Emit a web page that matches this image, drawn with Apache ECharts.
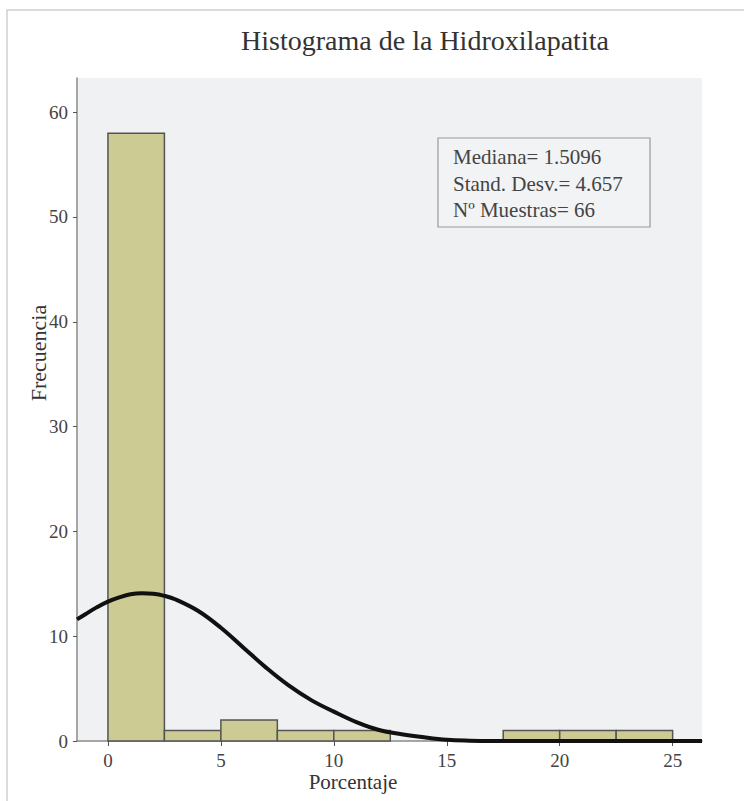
<!DOCTYPE html>
<html>
<head>
<meta charset="utf-8">
<script src="https://cdn.jsdelivr.net/npm/echarts@6/dist/echarts.min.js"></script>
<style>
html,body{margin:0;padding:0;background:#fff;}
#chart{width:744px;height:801px;}
</style>
</head>
<body>
<div id="chart"></div>
<script>
// ---- data ----
const chartTitle = 'Histograma de la Hidroxilapatita';
const xAxisName = 'Porcentaje';
const yAxisName = 'Frecuencia';
const binEdges = [0, 2.5, 5, 7.5, 10, 12.5, 15, 17.5, 20, 22.5, 25];
const binCounts = [58, 1, 2, 1, 1, 0, 0, 1, 1, 1];
const xTicks = [0, 5, 10, 15, 20, 25];
const yTicks = [0, 10, 20, 30, 40, 50, 60];
const curveX = [-1.37, -1, -0.5, 0, 0.5, 1, 1.5, 2, 2.5, 3, 4, 5, 6, 7, 8, 9, 10, 11, 12, 13, 14, 15, 16, 17, 18, 20, 26.3];
const curveY = [11.6, 12.1, 12.75, 13.3, 13.7, 14.0, 14.1, 14.05, 13.85, 13.5, 12.4, 10.8, 8.9, 7.0, 5.3, 3.9, 2.8, 1.8, 1.05, 0.65, 0.35, 0.12, 0.03, 0, 0, 0, 0];
const statsLines = ['Mediana= 1.5096', 'Stand. Desv.= 4.657', 'Nº Muestras= 66'];

// ---- build ----
const serif = "Liberation Serif";
const binData = [];
for (let i = 0; i < binCounts.length; i++) {
  if (binCounts[i] > 0) binData.push([binEdges[i], binEdges[i + 1], binCounts[i]]);
}
const curveData = curveX.map((x, i) => [x, curveY[i]]);

const chart = echarts.init(document.getElementById('chart'), null, {renderer: 'svg'});
chart.setOption({
  animation: false,
  backgroundColor: '#ffffff',
  grid: {
    left: 77, right: 42, top: 78, bottom: 60,
    show: true, backgroundColor: '#f0f1f3', borderWidth: 0
  },
  xAxis: {
    type: 'value', min: -1.37, max: 26.3,
    splitLine: {show: false},
    axisLine: {show: true, onZero: false, lineStyle: {color: '#8a8a8a', width: 1.5}},
    axisTick: {show: true, length: 5, customValues: xTicks, lineStyle: {color: '#555'}},
    axisLabel: {customValues: xTicks, margin: 10, color: '#444', fontFamily: serif, fontSize: 19}
  },
  yAxis: {
    type: 'value', min: 0, max: 63.26,
    splitLine: {show: false},
    axisLine: {show: true, onZero: false, lineStyle: {color: '#8a8a8a', width: 1.5}},
    axisTick: {show: true, length: 4, customValues: yTicks, lineStyle: {color: '#555'}},
    axisLabel: {customValues: yTicks, margin: 9, color: '#444', fontFamily: serif, fontSize: 19}
  },
  series: [
    {
      type: 'custom',
      z: 2,
      data: binData,
      encode: {x: [0, 1], y: 2},
      renderItem: function (params, api) {
        const p0 = api.coord([api.value(0), api.value(2)]);
        const p1 = api.coord([api.value(1), 0]);
        return {
          type: 'rect',
          shape: {x: p0[0], y: p0[1], width: p1[0] - p0[0], height: p1[1] - p0[1]},
          style: {fill: '#cbcb93', stroke: '#555555', lineWidth: 1.5}
        };
      }
    },
    {
      type: 'line',
      z: 3,
      data: curveData,
      smooth: 0.4,
      symbol: 'none',
      lineStyle: {color: '#111', width: 4}
    }
  ],
  graphic: [
    {
      type: 'rect', silent: true,
      shape: {x: 7, y: 10, width: 760, height: 820},
      style: {fill: 'none', stroke: '#cfcfcf', lineWidth: 1.5}
    },
    {
      type: 'text',
      style: {x: 425, y: 40, text: chartTitle, align: 'center', verticalAlign: 'middle',
              fontFamily: serif, fontSize: 28, fill: '#333'}
    },
    {
      type: 'text',
      style: {x: 353, y: 782, text: xAxisName, align: 'center', verticalAlign: 'middle',
              fontFamily: serif, fontSize: 21, fill: '#333'}
    },
    {
      type: 'text', x: 38, y: 353, rotation: Math.PI / 2,
      style: {x: 0, y: 0, text: yAxisName, align: 'center', verticalAlign: 'middle',
              fontFamily: serif, fontSize: 22, fill: '#333'}
    },
    {
      type: 'rect', z: 10,
      shape: {x: 438, y: 138, width: 212, height: 89},
      style: {fill: '#f2f3f5', stroke: '#9a9a9a', lineWidth: 1.2}
    },
    {
      type: 'text', z: 11,
      style: {x: 453, y: 157, text: statsLines[0], verticalAlign: 'middle',
              fontFamily: serif, fontSize: 21, fill: '#444'}
    },
    {
      type: 'text', z: 11,
      style: {x: 453, y: 184, text: statsLines[1], verticalAlign: 'middle',
              fontFamily: serif, fontSize: 21, fill: '#444'}
    },
    {
      type: 'text', z: 11,
      style: {x: 453, y: 210, text: statsLines[2], verticalAlign: 'middle',
              fontFamily: serif, fontSize: 21, fill: '#444'}
    }
  ]
});
</script>
</body>
</html>
